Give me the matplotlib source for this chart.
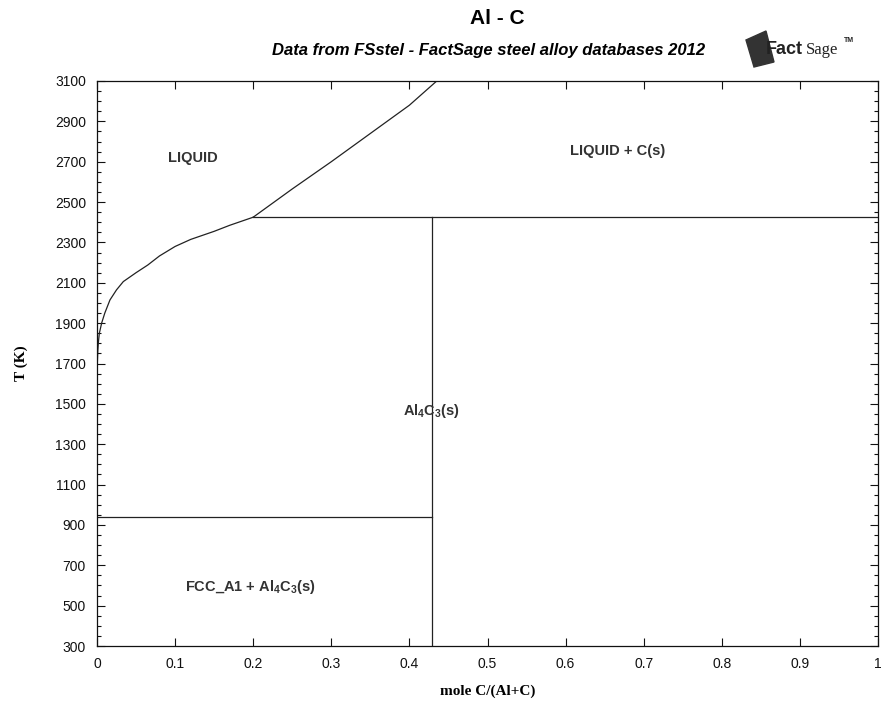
"""
Al - C phase diagram (FactSage style) recreated with matplotlib.
"""
import matplotlib.pyplot as plt
from matplotlib.patches import Polygon
from matplotlib.ticker import MultipleLocator

# liquidus, Al-rich side up to the peritectic
liq_low_x = [0.0, 0.0004, 0.001, 0.0017, 0.003, 0.006, 0.01, 0.0166, 0.025,
             0.0337, 0.05, 0.065, 0.08, 0.1, 0.12, 0.15, 0.17, 0.2]
liq_low_t = [1640, 1700, 1760, 1802, 1850, 1901, 1950, 2015, 2065,
             2106, 2150, 2188, 2233, 2280, 2315, 2355, 2385, 2425]

# liquidus above the peritectic (Liquid / Liquid + C)
liq_high_x = [0.2, 0.25, 0.3, 0.35, 0.4, 0.435]
liq_high_t = [2425, 2565, 2700, 2840, 2980, 3100]

t_peritectic = 2425
t_eutectic = 940
x_al4c3 = 3 / 7

labels = [
    ("LIQUID", 0.123, 2718),
    ("LIQUID + C(s)", 0.666, 2753),
    (r"Al$_\mathregular{4}$C$_\mathregular{3}$(s)", x_al4c3, 1465),
    (r"FCC_A1 + Al$_\mathregular{4}$C$_\mathregular{3}$(s)", 0.196, 593),
]

plt.rcParams["font.family"] = ["Liberation Sans", "DejaVu Sans"]
plt.rcParams["mathtext.default"] = "regular"

fig = plt.figure(figsize=(8.84, 7.09), dpi=100)
ax = fig.add_axes([97 / 884, 1 - 646 / 709, 781 / 884, 565 / 709])

lc = "#222222"
lw = 0.9
ax.plot(liq_low_x, liq_low_t, color=lc, lw=lw)
ax.plot(liq_high_x, liq_high_t, color=lc, lw=lw)
ax.plot([0.2, 1.0], [t_peritectic, t_peritectic], color=lc, lw=lw)
ax.plot([x_al4c3, x_al4c3], [300, t_peritectic], color=lc, lw=lw)
ax.plot([0.0, x_al4c3], [t_eutectic, t_eutectic], color=lc, lw=lw)

for txt, x, t in labels:
    ax.text(x, t, txt, ha="center", va="center", fontsize=10.5,
            fontweight="bold", color="#333333")

ax.set_xlim(0, 1)
ax.set_ylim(300, 3100)
ax.set_xticks([0, 0.1, 0.2, 0.3, 0.4, 0.5, 0.6, 0.7, 0.8, 0.9, 1])
ax.set_xticklabels(["0", "0.1", "0.2", "0.3", "0.4", "0.5", "0.6", "0.7",
                    "0.8", "0.9", "1"])
ax.set_yticks(list(range(300, 3101, 200)))
ax.yaxis.set_minor_locator(MultipleLocator(50))
ax.tick_params(axis="both", which="both", direction="in", top=True,
               right=True, labelsize=10, colors="#111111")
ax.tick_params(axis="both", which="major", length=6, width=0.8)
ax.tick_params(axis="y", which="minor", length=3, width=0.8)
ax.tick_params(axis="x", which="major", pad=8)
ax.tick_params(axis="y", which="major", pad=8)
for s in ax.spines.values():
    s.set_linewidth(0.9)
    s.set_color("#111111")

ax.set_xlabel("mole C/(Al+C)", family="Liberation Serif", fontweight="bold",
              fontsize=11, labelpad=10)
ax.set_ylabel("T (K)", family="Liberation Serif", fontweight="bold",
              fontsize=11, labelpad=19)

fig.text(497 / 884, 1 - 18 / 709, "Al - C", ha="center", va="center",
         fontsize=15, fontweight="bold")
fig.text(489 / 884, 1 - 50 / 709,
         "Data from FSstel - FactSage steel alloy databases 2012",
         ha="center", va="center", fontsize=12, fontweight="bold",
         style="italic")

# FactSage logo (tilted square plus wordmark)
sq = Polygon([[746 / 884, 1 - 40 / 709], [766 / 884, 1 - 31 / 709],
              [774 / 884, 1 - 62 / 709], [754 / 884, 1 - 67 / 709]],
             closed=True, transform=fig.transFigure, color="#333333")
fig.patches.append(sq)
fig.text(766 / 884, 1 - 49 / 709, "Fact", ha="left", va="center",
         fontsize=13, fontweight="bold", color="#222222")
fig.text(806 / 884, 1 - 50 / 709, "Sage", ha="left", va="center",
         fontsize=12, color="#222222", family="Liberation Serif")
fig.text(844 / 884, 1 - 40 / 709, "TM", ha="left", va="center", fontsize=5,
         fontweight="bold", color="#222222")

fig.savefig("out.png", dpi=100)
